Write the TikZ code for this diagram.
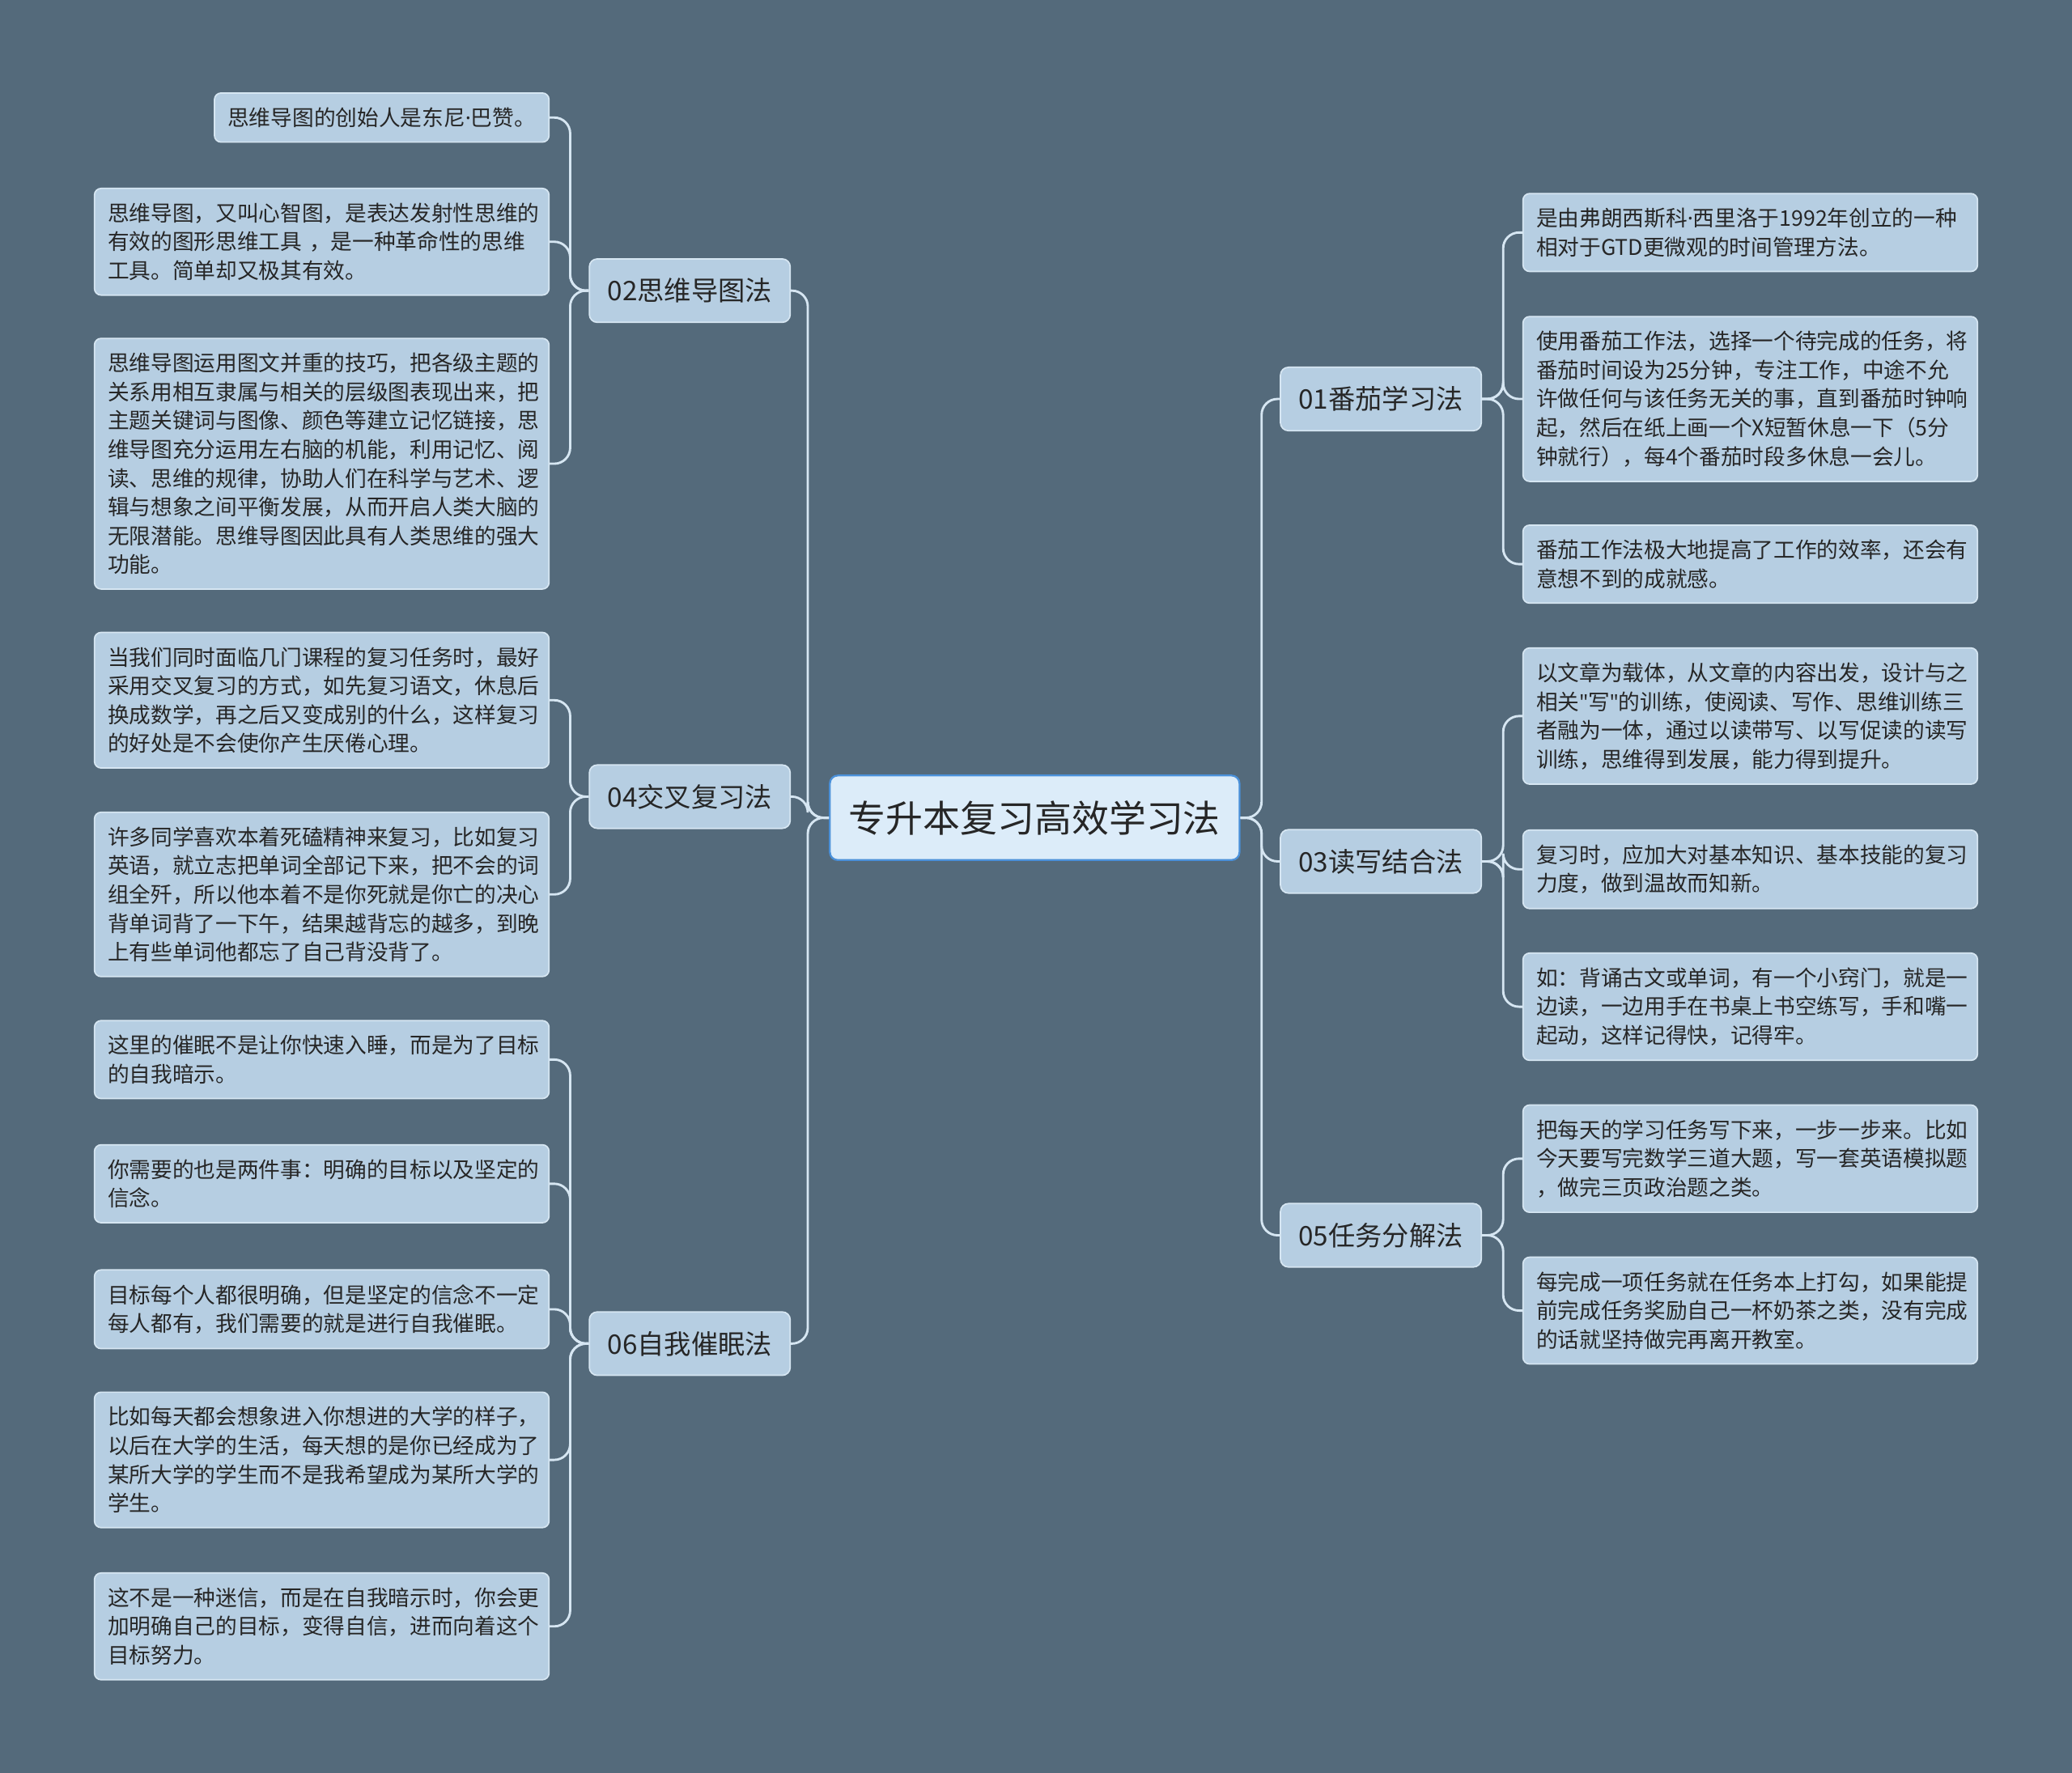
\documentclass[tikz,border=0pt]{standalone}
\usepackage{fontspec}
\setmainfont{Noto Sans CJK SC}
\newfontfamily\latinf{Noto Sans}
\usepackage{tikz}
\usetikzlibrary{positioning}
\definecolor{bgc}{RGB}{84,106,123}
\definecolor{leaffill}{RGB}{182,206,226}
\definecolor{linec}{RGB}{214,230,242}
\definecolor{rootfill}{RGB}{220,236,249}
\definecolor{rootdraw}{RGB}{74,144,217}
\newcommand{\mdot}{{\latinf ·}}
\newcommand{\dq}{{\latinf "}}
\tikzset{
  root/.style={draw=rootdraw, line width=0.4pt, fill=rootfill, rounded corners=0.6mm,
    minimum width=31mm, minimum height=6.4mm, font=\fontsize{8}{10}\selectfont, text=black!85},
  branch/.style={draw=linec, line width=0.3pt, fill=leaffill, rounded corners=0.6mm,
    minimum width=15.2mm, minimum height=4.8mm, font=\fontsize{5.8}{7}\selectfont, text=black!85},
  leaf/.style={draw=linec, line width=0.3pt, fill=leaffill, rounded corners=0.5mm,
    text width=32.4mm, inner xsep=1mm, inner ysep=1.1mm, align=left,
    font=\fontsize{4.65}{6.2}\selectfont, text=black!85},
  link/.style={draw=linec, line width=0.5pt, rounded corners=1.2mm}
}
\begin{document}
\begin{tikzpicture}[x=0.1mm,y=-0.1mm]
\fill[bgc] (0,0) rectangle (1568,1342);
\useasboundingbox (0,0) rectangle (1568,1342);

% Root
\node[root] (root) at (783,619) {专升本复习高效学习法};

% Branches
\node[branch] (b02) at (522,220) {02思维导图法};
\node[branch] (b04) at (522,603) {04交叉复习法};
\node[branch] (b06) at (522,1017) {06自我催眠法};
\node[branch] (b01) at (1045,302) {01番茄学习法};
\node[branch] (b03) at (1045,652) {03读写结合法};
\node[branch] (b05) at (1045,935) {05任务分解法};

% Left leaves
\node[leaf, text width=, anchor=east] (l21) at (416,89) {思维导图的创始人是东尼\mdot 巴赞。};
\node[leaf, anchor=east] (l22) at (416,183) {思维导图，又叫心智图，是表达发射性思维的\\有效的图形思维工具 ，是一种革命性的思维\\工具。简单却又极其有效。};
\node[leaf, anchor=east] (l23) at (416,351) {思维导图运用图文并重的技巧，把各级主题的\\关系用相互隶属与相关的层级图表现出来，把\\主题关键词与图像、颜色等建立记忆链接，思\\维导图充分运用左右脑的机能，利用记忆、阅\\读、思维的规律，协助人们在科学与艺术、逻\\辑与想象之间平衡发展，从而开启人类大脑的\\无限潜能。思维导图因此具有人类思维的强大\\功能。};
\node[leaf, anchor=east] (l41) at (416,530) {当我们同时面临几门课程的复习任务时，最好\\采用交叉复习的方式，如先复习语文，休息后\\换成数学，再之后又变成别的什么，这样复习\\的好处是不会使你产生厌倦心理。};
\node[leaf, anchor=east] (l42) at (416,677) {许多同学喜欢本着死磕精神来复习，比如复习\\英语，就立志把单词全部记下来，把不会的词\\组全歼，所以他本着不是你死就是你亡的决心\\背单词背了一下午，结果越背忘的越多，到晚\\上有些单词他都忘了自己背没背了。};
\node[leaf, anchor=east] (l61) at (416,802) {这里的催眠不是让你快速入睡，而是为了目标\\的自我暗示。};
\node[leaf, anchor=east] (l62) at (416,896) {你需要的也是两件事：明确的目标以及坚定的\\信念。};
\node[leaf, anchor=east] (l63) at (416,991) {目标每个人都很明确，但是坚定的信念不一定\\每人都有，我们需要的就是进行自我催眠。};
\node[leaf, anchor=east] (l64) at (416,1105) {比如每天都会想象进入你想进的大学的样子，\\以后在大学的生活，每天想的是你已经成为了\\某所大学的学生而不是我希望成为某所大学的\\学生。};
\node[leaf, anchor=east] (l65) at (416,1231) {这不是一种迷信，而是在自我暗示时，你会更\\加明确自己的目标，变得自信，进而向着这个\\目标努力。};

% Right leaves
\node[leaf, anchor=west] (r11) at (1152,176) {是由弗朗西斯科\mdot 西里洛于1992年创立的一种\\相对于GTD更微观的时间管理方法。};
\node[leaf, anchor=west] (r12) at (1152,302) {使用番茄工作法，选择一个待完成的任务，将\\番茄时间设为25分钟，专注工作，中途不允\\许做任何与该任务无关的事，直到番茄时钟响\\起，然后在纸上画一个X短暂休息一下（5分\\钟就行），每4个番茄时段多休息一会儿。};
\node[leaf, anchor=west] (r13) at (1152,427) {番茄工作法极大地提高了工作的效率，还会有\\意想不到的成就感。};
\node[leaf, anchor=west] (r31) at (1152,542) {以文章为载体，从文章的内容出发，设计与之\\相关\dq 写\dq 的训练，使阅读、写作、思维训练三\\者融为一体，通过以读带写、以写促读的读写\\训练，思维得到发展，能力得到提升。};
\node[leaf, anchor=west] (r32) at (1152,658) {复习时，应加大对基本知识、基本技能的复习\\力度，做到温故而知新。};
\node[leaf, anchor=west] (r33) at (1152,762) {如：背诵古文或单词，有一个小窍门，就是一\\边读，一边用手在书桌上书空练写，手和嘴一\\起动，这样记得快，记得牢。};
\node[leaf, anchor=west] (r51) at (1152,877) {把每天的学习任务写下来，一步一步来。比如\\今天要写完数学三道大题，写一套英语模拟题\\，做完三页政治题之类。};
\node[leaf, anchor=west] (r52) at (1152,992) {每完成一项任务就在任务本上打勾，如果能提\\前完成任务奖励自己一杯奶茶之类，没有完成\\的话就坚持做完再离开教室。};

% Root to branches
\foreach \b in {b02,b04,b06}
  \draw[link] (root.west) -- ++(-16,0) |- (\b.east);
\foreach \b in {b01,b03,b05}
  \draw[link] (root.east) -- ++(16,0) |- (\b.west);

% Branches to leaves
\foreach \b/\l in {b02/l21,b02/l22,b02/l23,b04/l41,b04/l42,b06/l61,b06/l62,b06/l63,b06/l64,b06/l65}
  \draw[link] (\b.west) -- ++(-14,0) |- (\l.east);
\foreach \b/\l in {b01/r11,b01/r12,b01/r13,b03/r31,b03/r32,b03/r33,b05/r51,b05/r52}
  \draw[link] (\b.east) -- ++(16,0) |- (\l.west);
\end{tikzpicture}
\end{document}
